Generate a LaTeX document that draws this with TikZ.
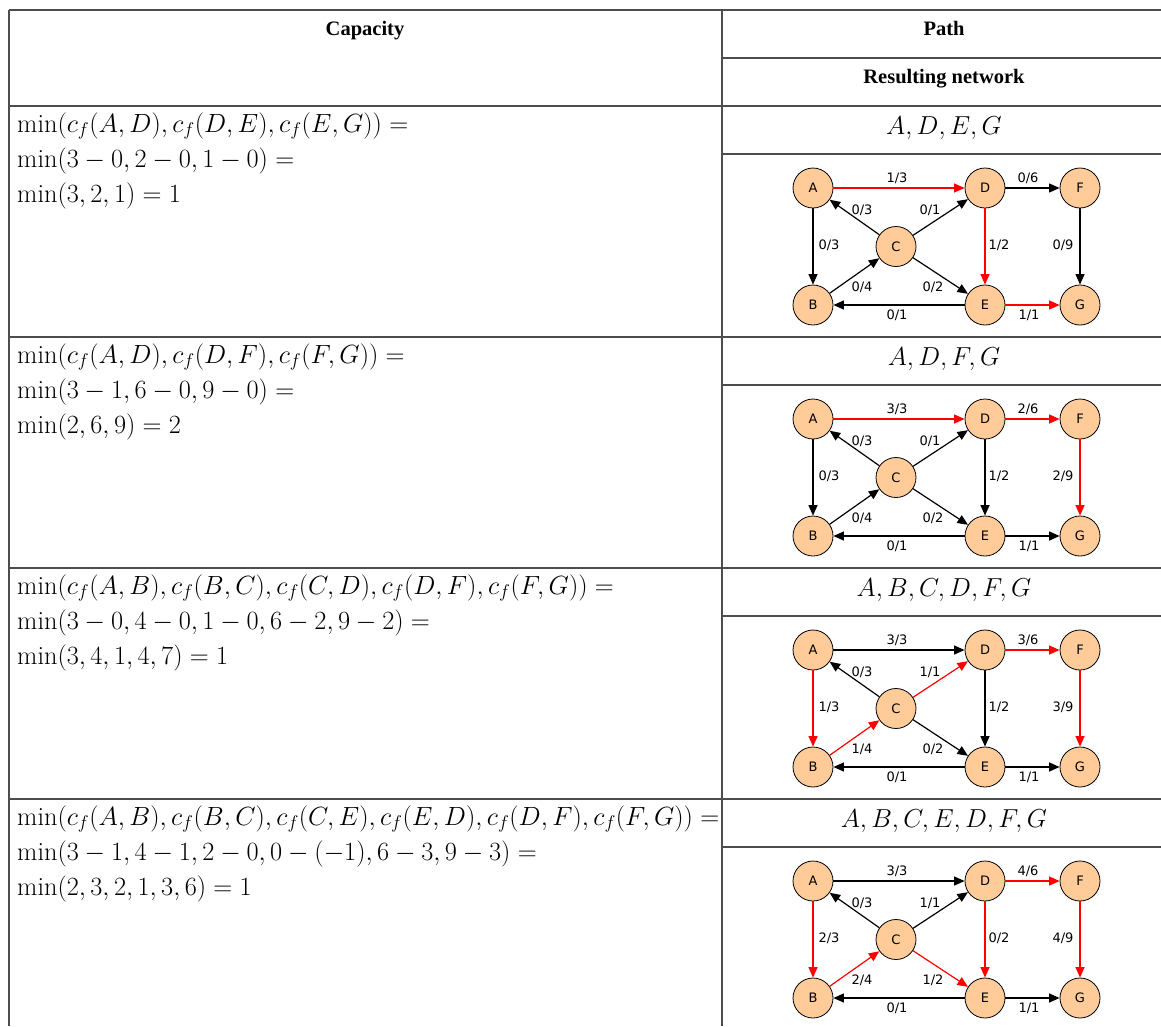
\RequirePackage{fix-cm}
\documentclass[tikz,border=0pt]{standalone}
\usepackage{fontspec}
\newfontfamily\hdrfont{Liberation Serif}
\newfontfamily\lblfont{DejaVu Sans}
\usetikzlibrary{arrows.meta}
\definecolor{nodefill}{HTML}{FFCC99}
\definecolor{rulecol}{HTML}{4D4D4D}
\tikzset{
  rule/.style={draw=rulecol, line width=1.2pt},
  vert/.style={circle, draw=black, line width=0.8pt, fill=nodefill, minimum size=40pt, inner sep=0pt, font=\lblfont\fontsize{13}{15}\selectfont},
  edge/.style={line width=1.2pt, -{Triangle[length=10.5pt,width=9pt]}},
  lab/.style={font=\lblfont\fontsize{13}{15}\selectfont, inner sep=0pt},
  hdr/.style={font=\hdrfont\bfseries\fontsize{20.5}{24}\selectfont, anchor=base, inner sep=0pt},
  mth/.style={font=\fontsize{26.3}{30}\selectfont, anchor=base west, inner sep=0pt},
  pth/.style={font=\fontsize{26}{30}\selectfont, anchor=base, inner sep=0pt},
}
\newcommand\netw[3]{%
  \node[vert] (A#2) at (813,{#1+34}) {A};
  \node[vert] (D#2) at (985,{#1+34}) {D};
  \node[vert] (F#2) at (1080,{#1+34}) {F};
  \node[vert] (C#2) at (896,{#1+92.5}) {C};
  \node[vert] (B#2) at (813,{#1+151}) {B};
  \node[vert] (E#2) at (985,{#1+151}) {E};
  \node[vert] (G#2) at (1080,{#1+151}) {G};
  \coordinate (pAD#2) at (897,{#1+24});
  \coordinate (pDF#2) at (1028,{#1+24});
  \coordinate (pCA#2) at (862,{#1+56});
  \coordinate (pCD#2) at (930,{#1+56});
  \coordinate (pAB#2) at (829,{#1+91});
  \coordinate (pDE#2) at (999,{#1+91});
  \coordinate (pFG#2) at (1063,{#1+91});
  \coordinate (pBC#2) at (862,{#1+133});
  \coordinate (pCE#2) at (933,{#1+133});
  \coordinate (pEB#2) at (897,{#1+161});
  \coordinate (pEG#2) at (1029,{#1+161});
  \foreach \f/\t/\c/\a/\b in {#3} {
    \draw[edge, draw=\c] (\f#2) -- (\t#2);
    \node[lab] (l\f\t#2) at (p\f\t#2) {\a/\b};
  }
}
\begin{document}
\begin{tikzpicture}[x=1pt,y=-1pt]
\useasboundingbox (0,0) rectangle (1161,1026);
% table rules
\draw[rule] (9,10) -- (1161,10);
\draw[rule] (9,10) -- (9,1026);
\draw[rule] (722,10) -- (722,1026);
\foreach \yy in {106,337,568,799} { \draw[rule] (9,\yy) -- (1161,\yy); }
\foreach \yy in {58,154,385,616,847} { \draw[rule] (722,\yy) -- (1161,\yy); }
% header
\node[hdr] (hcap) at (365,35) {Capacity};
\node[hdr] (hpath) at (944,35) {Path};
\node[hdr] (hnet) at (944,83) {Resulting network};
% row 1
\node[mth] (m11) at (17,132) {$\min(c_f(A,D),c_f(D,E),c_f(E,G))=$};
\node[mth] (m12) at (17,167) {$\min(3-0,2-0,1-0)=$};
\node[mth] (m13) at (17,202) {$\min(3,2,1)=1$};
\node[pth] (p1) at (944,134) {$A,D,E,G$};
% row 2
\node[mth] (m21) at (17,363) {$\min(c_f(A,D),c_f(D,F),c_f(F,G))=$};
\node[mth] (m22) at (17,398) {$\min(3-1,6-0,9-0)=$};
\node[mth] (m23) at (17,433) {$\min(2,6,9)=2$};
\node[pth] (p2) at (944,365) {$A,D,F,G$};
% row 3
\node[mth] (m31) at (17,594) {$\min(c_f(A,B),c_f(B,C),c_f(C,D),c_f(D,F),c_f(F,G))=$};
\node[mth] (m32) at (17,629) {$\min(3-0,4-0,1-0,6-2,9-2)=$};
\node[mth] (m33) at (17,664) {$\min(3,4,1,4,7)=1$};
\node[pth] (p3) at (944,596) {$A,B,C,D,F,G$};
% row 4
\node[mth] (m41) at (17,825) {$\min(c_f(A,B),c_f(B,C),c_f(C,E),c_f(E,D),c_f(D,F),c_f(F,G))=$};
\node[mth] (m42) at (17,860) {$\min(3-1,4-1,2-0,0-(-1),6-3,9-3)=$};
\node[mth] (m43) at (17,895) {$\min(2,3,2,1,3,6)=1$};
\node[pth] (p4) at (944,827) {$A,B,C,E,D,F,G$};
% networks
\netw{154}{1}{A/D/red/1/3, D/F/black/0/6, C/A/black/0/3, C/D/black/0/1, A/B/black/0/3, D/E/red/1/2, F/G/black/0/9, B/C/black/0/4, C/E/black/0/2, E/B/black/0/1, E/G/red/1/1}
\netw{385}{2}{A/D/red/3/3, D/F/red/2/6, C/A/black/0/3, C/D/black/0/1, A/B/black/0/3, D/E/black/1/2, F/G/red/2/9, B/C/black/0/4, C/E/black/0/2, E/B/black/0/1, E/G/black/1/1}
\netw{616}{3}{A/D/black/3/3, D/F/red/3/6, C/A/black/0/3, C/D/red/1/1, A/B/red/1/3, D/E/black/1/2, F/G/red/3/9, B/C/red/1/4, C/E/black/0/2, E/B/black/0/1, E/G/black/1/1}
\netw{847}{4}{A/D/black/3/3, D/F/red/4/6, C/A/black/0/3, C/D/black/1/1, A/B/red/2/3, D/E/red/0/2, F/G/red/4/9, B/C/red/2/4, C/E/red/1/2, E/B/black/0/1, E/G/black/1/1}
\end{tikzpicture}
\end{document}
